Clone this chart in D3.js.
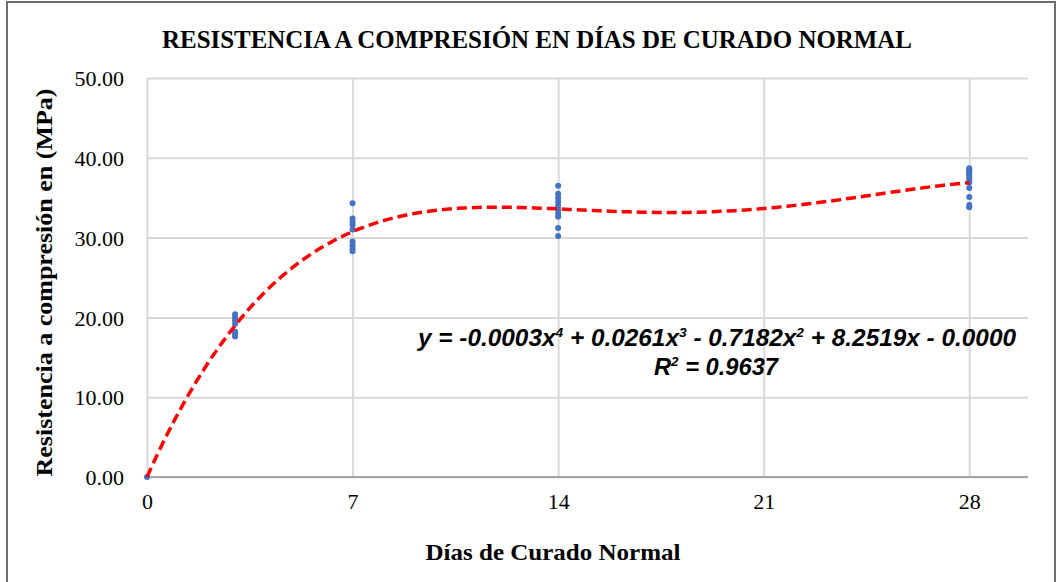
<!DOCTYPE html>
<html>
<head>
<meta charset="utf-8">
<script src="https://cdn.jsdelivr.net/npm/d3@7"></script>
<style>
  body { margin: 0; background: #fff; }
  svg { display: block; }
</style>
</head>
<body>
<script>
// datos (días de curado -> resistencia en MPa)
var dias = [0, 3, 7, 14, 28];
var res0 = [0.0];
var res3 = [20.4, 20.0, 19.6, 19.2, 18.2, 17.9, 17.6];
var res7 = [34.3, 32.4, 32.0, 31.6, 31.0, 29.5, 29.0, 28.6, 28.3];
var res14 = [36.5, 35.5, 35.0, 34.5, 34.0, 33.5, 33.0, 32.6, 31.2, 30.2];
var res28 = [38.7, 38.5, 38.3, 38.1, 37.9, 37.6, 37.3, 36.9, 36.2, 35.1, 34.1, 33.8];
var xTicks = [0, 7, 14, 21, 28];
var yTicks = [0, 10, 20, 30, 40, 50];
var titulo = "RESISTENCIA A COMPRESIÓN EN DÍAS DE CURADO NORMAL";
var tituloY = "Resistencia a compresión en (MPa)";
var tituloX = "Días de Curado Normal";

// margenes
var W = 1059, H = 582;
var margin = { top: 78, right: 31, bottom: 105, left: 147 },
    width = W - margin.left - margin.right,
    height = H - margin.top - margin.bottom;

var x = d3.scaleLinear().domain([0, 30]).range([0, width]);
var y = d3.scaleLinear().domain([0, 50]).range([height, 0]);

var svg = d3.select("body").append("svg")
    .attr("width", W)
    .attr("height", H);

// marco exterior
svg.append("rect")
    .attr("x", 7).attr("y", 2)
    .attr("width", 1048).attr("height", 620)
    .attr("fill", "none")
    .attr("stroke", "#6e6e6e")
    .attr("stroke-width", 2);

// titulo
svg.append("text")
    .attr("x", 537).attr("y", 48)
    .attr("text-anchor", "middle")
    .attr("font-family", "Liberation Serif")
    .attr("font-weight", "bold")
    .attr("font-size", "26px")
    .attr("textLength", 750)
    .attr("lengthAdjust", "spacingAndGlyphs")
    .text(titulo);

var chart = svg.append("g")
    .attr("transform", "translate(" + margin.left + "," + margin.top + ")");

// lineas de cuadricula horizontales
var yAxis = d3.axisLeft(y)
    .tickValues(yTicks)
    .tickSize(-width)
    .tickPadding(23)
    .tickFormat(d3.format(".2f"));

var gy = chart.append("g").attr("class", "y_axis").call(yAxis);
gy.select(".domain").remove();
gy.selectAll(".tick line").attr("stroke", "#d9d9d9").attr("stroke-width", 2);
gy.selectAll(".tick text")
    .attr("font-family", "Liberation Serif")
    .attr("font-size", "22px")
    .attr("fill", "#000")
    .attr("dy", "0.35em");

// lineas verticales
var xAxis = d3.axisBottom(x)
    .tickValues(xTicks)
    .tickSize(-height)
    .tickPadding(16)
    .tickFormat(d3.format("d"));

var gx = chart.append("g").attr("class", "x_axis")
    .attr("transform", "translate(0," + height + ")")
    .call(xAxis);
gx.select(".domain").remove();
gx.selectAll(".tick line").attr("stroke", "#d9d9d9").attr("stroke-width", 2);
gx.selectAll(".tick text")
    .attr("font-family", "Liberation Serif")
    .attr("font-size", "22px")
    .attr("fill", "#000");

// eje x (linea base)
chart.append("line")
    .attr("x1", 0).attr("x2", width)
    .attr("y1", height).attr("y2", height)
    .attr("stroke", "#a6a6a6")
    .attr("stroke-width", 2);

// titulos de ejes
svg.append("text")
    .attr("transform", "translate(52," + (margin.top + height / 2 + 5) + ") rotate(-90)")
    .attr("text-anchor", "middle")
    .attr("font-family", "Liberation Serif")
    .attr("font-weight", "bold")
    .attr("font-size", "23px")
    .attr("textLength", 388)
    .attr("lengthAdjust", "spacingAndGlyphs")
    .text(tituloY);

svg.append("text")
    .attr("x", 553).attr("y", 560)
    .attr("text-anchor", "middle")
    .attr("font-family", "Liberation Serif")
    .attr("font-weight", "bold")
    .attr("font-size", "23px")
    .attr("textLength", 255)
    .attr("lengthAdjust", "spacingAndGlyphs")
    .text(tituloX);

// puntos
var series = [res0, res3, res7, res14, res28];
var puntos = [];
series.forEach(function (vals, i) {
    vals.forEach(function (v) { puntos.push({ d: dias[i], r: v }); });
});

// linea de tendencia polinómica (grado 4) por minimos cuadrados
function ajustePoli(data, grado) {
    var n = grado + 1, s = 10;
    var M = [], b = [];
    for (var i = 0; i < n; i++) { M.push(new Array(n).fill(0)); b.push(0); }
    data.forEach(function (p) {
        var t = p.d / s;
        for (var i = 0; i < n; i++) {
            b[i] += Math.pow(t, i) * p.r;
            for (var j = 0; j < n; j++) M[i][j] += Math.pow(t, i + j);
        }
    });
    // eliminacion gaussiana
    for (var c = 0; c < n; c++) {
        var piv = c;
        for (var r = c + 1; r < n; r++) if (Math.abs(M[r][c]) > Math.abs(M[piv][c])) piv = r;
        var tmp = M[c]; M[c] = M[piv]; M[piv] = tmp;
        var tb = b[c]; b[c] = b[piv]; b[piv] = tb;
        for (var r = c + 1; r < n; r++) {
            var f = M[r][c] / M[c][c];
            for (var k = c; k < n; k++) M[r][k] -= f * M[c][k];
            b[r] -= f * b[c];
        }
    }
    var coef = new Array(n).fill(0);
    for (var i = n - 1; i >= 0; i--) {
        var sum = b[i];
        for (var k = i + 1; k < n; k++) sum -= M[i][k] * coef[k];
        coef[i] = sum / M[i][i];
    }
    return function (xx) {
        var t = xx / s, v = 0;
        for (var i = 0; i < n; i++) v += coef[i] * Math.pow(t, i);
        return v;
    };
}

var f = ajustePoli(puntos, 4);
var curva = d3.range(0, 28.01, 0.2).map(function (d) { return { d: d, r: f(d) }; });

chart.append("g").attr("class", "puntos")
    .selectAll("circle")
    .data(puntos)
    .enter()
    .append("circle")
    .attr("cx", function (p) { return x(p.d); })
    .attr("cy", function (p) { return y(p.r); })
    .attr("r", 3)
    .attr("fill", "#4472c4");

chart.append("path")
    .datum(curva)
    .attr("fill", "none")
    .attr("stroke", "#ff0000")
    .attr("stroke-width", 3.5)
    .attr("stroke-dasharray", "10,5")
    .attr("d", d3.line()
        .x(function (p) { return x(p.d); })
        .y(function (p) { return y(p.r); }));

// ecuacion y R2
var eq = svg.append("text")
    .attr("x", 717).attr("y", 346)
    .attr("text-anchor", "middle")
    .attr("font-family", "Liberation Sans")
    .attr("font-weight", "bold")
    .attr("font-style", "italic")
    .attr("font-size", "23px")
    .attr("textLength", 598)
    .attr("lengthAdjust", "spacingAndGlyphs");
var partes = [["y = -0.0003x", ""], ["4", "sup"], [" + 0.0261x", ""], ["3", "sup"],
    [" - 0.7182x", ""], ["2", "sup"], [" + 8.2519x - 0.0000", ""]];
partes.forEach(function (p) {
    var ts = eq.append("tspan").text(p[0]);
    if (p[1] == "sup") ts.attr("font-size", "13px").attr("dy", -9);
    else if (eq.selectAll("tspan").size() > 1) ts.attr("dy", 9);
});

var r2 = svg.append("text")
    .attr("x", 716).attr("y", 375)
    .attr("text-anchor", "middle")
    .attr("font-family", "Liberation Sans")
    .attr("font-weight", "bold")
    .attr("font-style", "italic")
    .attr("font-size", "23px")
    .attr("textLength", 124)
    .attr("lengthAdjust", "spacingAndGlyphs");
r2.append("tspan").text("R");
r2.append("tspan").text("2").attr("font-size", "13px").attr("dy", -9);
r2.append("tspan").text(" = 0.9637").attr("dy", 9);
</script>
</body>
</html>
